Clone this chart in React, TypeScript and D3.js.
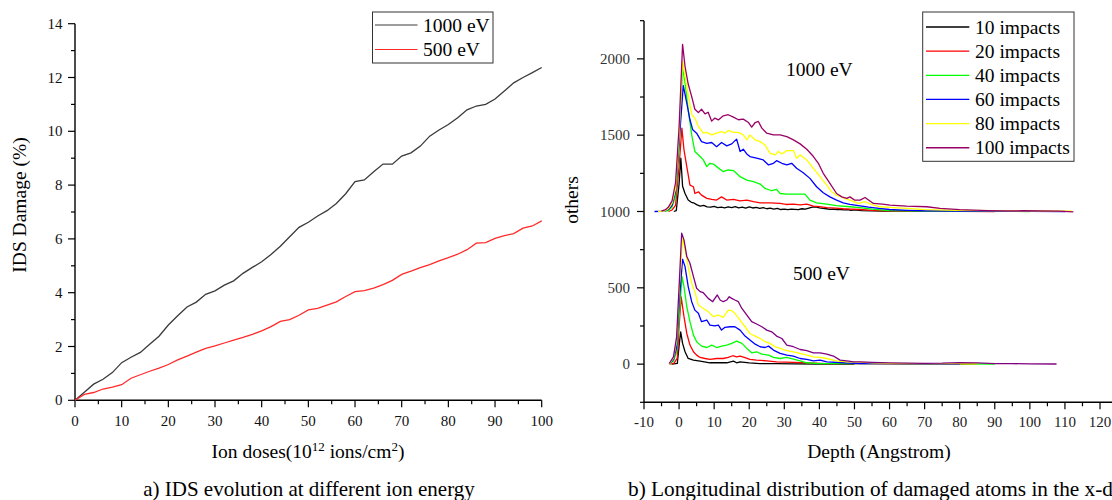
import React from "react";
import * as d3 from "d3";

// ---------- Panel a) data ----------
const doses = [0,2,4,6,8,10,12,14,16,18,20,22,24,26,28,30,32,34,36,38,40,42,44,46,48,50,52,54,56,58,60,62,64,66,68,70,72,74,76,78,80,82,84,86,88,90,92,94,96,98,100];
const ids1000 = [0,0.3,0.6,0.78,1.03,1.4,1.6,1.78,2.08,2.38,2.8,3.14,3.47,3.65,3.94,4.07,4.28,4.44,4.72,4.94,5.15,5.42,5.73,6.08,6.43,6.62,6.85,7.05,7.32,7.68,8.13,8.19,8.5,8.78,8.78,9.08,9.2,9.45,9.82,10.05,10.25,10.5,10.8,10.94,11.0,11.2,11.5,11.8,12.0,12.18,12.37];
const ids500 = [0,0.22,0.29,0.42,0.49,0.58,0.82,0.95,1.08,1.2,1.33,1.5,1.64,1.79,1.93,2.02,2.13,2.24,2.34,2.45,2.58,2.74,2.93,3.0,3.16,3.36,3.42,3.54,3.66,3.86,4.04,4.08,4.17,4.3,4.46,4.68,4.8,4.93,5.04,5.18,5.3,5.43,5.6,5.84,5.86,6.02,6.12,6.2,6.4,6.48,6.67];
const leftXTicks = [0,10,20,30,40,50,60,70,80,90,100];
const leftXMinor = [5,15,25,35,45,55,65,75,85,95];
const leftYTicks = [0,2,4,6,8,10,12,14];
const leftYMinor = [1,3,5,7,9,11,13];
const leftSeriesNames = ["1000 eV", "500 eV"];
const leftColors = ["#3a3a3a", "#ff2a2a"];

// ---------- Panel b) data: [depth (Angstrom), value] ----------
const e1000_i10 = [[-1.5,1000],[-0.8,1005],[0,1180],[0.5,1349],[1,1165],[1.7,1118],[2.6,1075],[3.5,1060],[4.1,1057],[5,1045],[6,1035],[7,1040],[8,1030],[9,1028],[10,1033],[11,1025],[12,1028],[13,1024],[14,1030],[15,1026],[16,1032],[17,1024],[18,1028],[19,1022],[20,1030],[21,1023],[22,1027],[23,1020],[24,1025],[25,1018],[26,1022],[27,1016],[28,1020],[29,1013],[30,1016],[31,1012],[32,1015],[33,1014],[34,1012],[35,1018],[36,1015],[37,1022],[38,1028],[39,1030],[40,1024],[41,1020],[42,1018],[43,1014],[44,1016],[45,1012],[46,1013],[47,1010],[48,1012],[49,1008],[50,1010],[52,1006],[55,1004],[58,1003],[62,1002],[70,1001]];
const e1000_i20 = [[-3,1000],[-2,1010],[-1,1040],[0,1300],[0.8,1546],[1.4,1404],[2.2,1294],[3.1,1173],[4.1,1162],[4.5,1118],[5.5,1129],[6.4,1107],[7.9,1086],[9.3,1079],[10.7,1075],[12.1,1096],[13.6,1075],[15.5,1079],[17.4,1070],[19.3,1075],[21.2,1064],[23.1,1057],[25.9,1057],[28.8,1053],[30.5,1046],[32.6,1048],[34.5,1044],[36.4,1048],[38.3,1035],[40,1032],[42.1,1026],[44.5,1022],[46.8,1018],[49,1016],[51.6,1013],[55,1008],[60,1005],[65,1003],[70,1002],[80,1001],[90,1000]];
const e1000_i40 = [[-4,1000],[-3,1008],[-2,1030],[-1,1100],[0,1400],[1.0,1941],[1.7,1842],[2.6,1667],[3.6,1502],[4.5,1393],[6,1360],[6.9,1338],[7.9,1294],[8.8,1316],[9.8,1311],[10.7,1294],[12.6,1261],[14,1272],[15.5,1268],[17.4,1228],[19.3,1206],[21.2,1195],[23.1,1180],[24.5,1151],[26.4,1136],[27.8,1145],[28.8,1118],[30.7,1114],[32.6,1114],[35.9,1114],[37.3,1075],[39.2,1057],[42.1,1048],[44.9,1039],[48.7,1031],[51.6,1026],[55,1016],[60,1006],[70,1003],[80,1002],[90,1001],[100,1000]];
const e1000_i60 = [[-7,1000],[-5,1001],[-4,1004],[-3,1015],[-2,1040],[-1,1130],[0,1450],[1.2,1825],[2.2,1710],[3.1,1601],[3.9,1535],[5,1513],[6.4,1458],[7.9,1447],[9.3,1452],[10.7,1425],[12.1,1452],[13.6,1430],[15,1443],[16.4,1474],[17.4,1393],[18.3,1408],[19.3,1377],[20.2,1360],[22.1,1349],[24,1338],[25.5,1305],[26.9,1316],[27.8,1333],[29.3,1316],[30.7,1305],[32.1,1316],[33.5,1283],[35.4,1254],[37.3,1217],[39.2,1162],[41.1,1123],[43,1096],[44.9,1075],[46.8,1057],[48.7,1046],[51.6,1037],[54,1028],[57,1020],[60,1013],[65,1008],[70,1005],[80,1003],[90,1002],[100,1001],[110,1000]];
const e1000_i80 = [[-6,1000],[-5,1002],[-4,1005],[-3,1020],[-2,1055],[-1,1150],[0,1500],[1,1985],[2.2,1820],[3.6,1634],[4.5,1612],[5.5,1557],[6.9,1513],[7.9,1518],[9.3,1502],[10.7,1513],[12.1,1524],[13.1,1513],[14,1531],[15.5,1518],[16.9,1518],[18.3,1502],[19.3,1469],[20.2,1502],[21.7,1469],[23.1,1458],[24.5,1436],[25.9,1382],[27.4,1371],[28.3,1393],[29.3,1377],[30.7,1399],[32.6,1399],[33.5,1349],[34.5,1371],[36.4,1338],[38.3,1283],[40.2,1228],[42.1,1173],[43.5,1129],[44.9,1107],[46.8,1090],[48.7,1075],[51.1,1053],[53,1064],[55,1045],[57.3,1031],[61,1025],[65,1020],[70,1012],[80,1008],[90,1006],[100,1004],[112,1002]];
const e1000_i100 = [[-5,1004],[-4,1010],[-3,1030],[-2,1070],[-1,1190],[0,1550],[1,2095],[1.7,1950],[2.6,1835],[3.6,1753],[4.5,1670],[5.5,1648],[6.4,1670],[7.4,1640],[8.3,1650],[9.3,1592],[10.2,1612],[11.2,1600],[12.6,1627],[14,1634],[15.5,1618],[16.9,1601],[18.3,1605],[19.8,1583],[20.7,1553],[21.7,1583],[22.6,1590],[23.6,1546],[25,1513],[26.9,1502],[28.8,1502],[30.7,1491],[32.6,1469],[34.5,1443],[36.4,1408],[38.3,1360],[39.7,1316],[41.1,1250],[43,1184],[44.9,1118],[46.4,1096],[47.8,1086],[48.7,1096],[50,1075],[51.6,1075],[53,1092],[55.4,1053],[58,1048],[60.1,1042],[64.9,1035],[70.6,1031],[74.4,1020],[80,1012],[83.9,1009],[88,1006],[93.4,1004],[98,1005],[102.9,1004],[108,1002],[112.4,998]];

const e500_i10 = [[-2,0],[-0.5,5],[0,120],[0.46,212],[1,136],[1.7,81],[2.6,37],[4.1,26],[6,20],[8.8,9],[11,10],[13.6,9],[15.5,20],[16.4,9],[17.4,15],[20,8],[23.1,4],[28,3],[32.6,2],[40,1],[50,0]];
const e500_i20 = [[-2.5,0],[-1.5,5],[-0.5,40],[0,250],[0.6,440],[1.4,311],[2.2,201],[3.1,125],[4.1,81],[5,59],[6,44],[7.4,37],[8.8,31],[10.7,37],[12.6,37],[14,44],[15.3,55],[16.4,48],[17.4,53],[18.8,42],[20.2,31],[22.1,26],[25,22],[27.8,15],[32.6,11],[37,8],[42.1,4],[50,3],[60,2],[70,1],[85,0]];
const e500_i40 = [[-2.8,0],[-1.6,20],[-0.7,80],[0,300],[0.84,573],[1.4,508],[2.2,376],[3.1,278],[4.1,190],[5,147],[6.4,118],[7.9,109],[9.3,125],[10.7,109],[12.1,118],[13.6,125],[15,136],[16.4,151],[17.9,136],[19.3,103],[20.7,74],[22.1,81],[23.6,66],[25.5,59],[26.9,44],[28.8,37],[30.7,44],[32.6,33],[34.5,22],[36.4,9],[40.2,4],[50,4],[60,3],[70,2],[80,2],[90,0]];
const e500_i60 = [[-2.8,0],[-1.6,30],[-0.7,110],[0,400],[1,687],[1.7,639],[2.6,508],[3.6,409],[4.5,354],[5.5,333],[6.4,278],[7.9,289],[8.8,256],[10.2,250],[11.2,256],[12.1,223],[13.1,241],[14.5,245],[15.9,245],[17.4,223],[18.8,184],[20.2,158],[21.7,131],[23.1,114],[24.5,109],[25.5,118],[26.9,92],[28.8,70],[30.7,59],[32.6,53],[34.5,37],[36.4,31],[38.3,22],[40.2,26],[42.1,15],[46.8,9],[51.6,4],[60,3],[70,2],[80,1]];
const e500_i80 = [[-2.8,0],[-1.6,40],[-0.7,150],[0,480],[1,825],[1.7,748],[2.6,639],[3.6,529],[4.5,475],[5.5,387],[6.9,365],[8.3,344],[9.8,311],[11.2,322],[12.6,306],[14,354],[15,350],[15.9,333],[17.4,289],[18.8,245],[20.2,201],[21.7,184],[23.1,168],[24.5,147],[25.9,136],[27.4,114],[28.8,103],[30.7,88],[32.6,81],[34.5,70],[36.4,59],[38.3,48],[40.2,44],[42.1,37],[44.9,22],[47.8,15],[51.6,13],[55,8],[60,5],[70,4],[80,3],[85,2]];
const e500_i100 = [[-2.8,4],[-1.6,48],[-0.7,179],[0.1,551],[0.74,858],[1.4,814],[2.2,705],[3.1,661],[4.1,573],[5,497],[6,475],[6.9,468],[8.3,431],[9.6,409],[10.2,431],[10.9,453],[11.7,420],[12.6,409],[13.6,420],[14.3,442],[15,431],[15.9,420],[16.9,409],[17.9,365],[18.8,337],[19.8,306],[20.7,278],[22.1,263],[23.6,245],[25,223],[26.4,212],[27.8,184],[29.3,168],[30.7,125],[32.6,114],[34.5,96],[36.4,88],[38.3,74],[40.2,74],[42.1,66],[44,53],[45.9,26],[47.8,22],[49.7,15],[51.6,15],[55,12],[60,8],[65,6],[70,5],[75,6],[80,10],[85,8],[90,4],[95,3],[100,2],[107.6,1]];

const impactNames = ["10 impacts","20 impacts","40 impacts","60 impacts","80 impacts","100 impacts"];
const impactColors = ["#000000","#ff0000","#00ff00","#0000ff","#ffff00","#990066"];
const impactColors500 = ["#000000","#ff0000","#00ff00","#0000ff","#ffff00","#800080"];
const series1000 = [e1000_i10, e1000_i20, e1000_i40, e1000_i60, e1000_i80, e1000_i100];
const series500 = [e500_i10, e500_i20, e500_i40, e500_i60, e500_i80, e500_i100];
const rightXTicks = [-10,0,10,20,30,40,50,60,70,80,90,100,110,120];
const rightXMinor = [-5,5,15,25,35,45,55,65,75,85,95,105,115,125];
const rightYTicks = [0,500,1000,1500,2000];
const rightYMinor = [-250,250,750,1250,1750,2250];

const FONT = "'Liberation Serif', 'Times New Roman', serif";

export default function App() {
  // Panel a scales
  const ax = d3.scaleLinear().domain([0, 100]).range([75, 541.7]);
  const ay = d3.scaleLinear().domain([0, 14]).range([400.3, 23.7]);
  // Panel b scales
  const bx = d3.scaleLinear().domain([-10, 130]).range([644, 1135.1]);
  const by = d3.scaleLinear().domain([-250, 2250]).range([402.3, 20.7]);

  const lineA = d3.line<number>().x((_, i) => ax(doses[i])).y((d) => ay(d));
  const lineB = d3.line<number[]>().x((d) => bx(d[0])).y((d) => by(d[1]));

  const tickLabel = { fontFamily: FONT, fontSize: 15, fill: "#111" } as const;

  return (
    <svg width={1112} height={500} style={{ position: "absolute", left: 0, top: 0, background: "#fff" }}>
      <rect x={0} y={0} width={1112} height={500} fill="#fff" />
      {/* ================= Panel a ================= */}
      <g>
        <line x1={ax(0)} x2={ax(0)} y1={ay(14)} y2={ay(0)} stroke="#000" strokeWidth={1.4} />
        <line x1={ax(0)} x2={ax(100)} y1={ay(0)} y2={ay(0)} stroke="#000" strokeWidth={1.4} />
        {leftYTicks.map((t) => (
          <g key={"ly" + t}>
            <line x1={ax(0) - 7} x2={ax(0)} y1={ay(t)} y2={ay(t)} stroke="#000" strokeWidth={1.2} />
            <text x={62.5} y={ay(t)} dy="0.34em" textAnchor="end" {...tickLabel}>{t}</text>
          </g>
        ))}
        {leftYMinor.map((t) => (
          <line key={"lym" + t} x1={ax(0) - 4} x2={ax(0)} y1={ay(t)} y2={ay(t)} stroke="#000" strokeWidth={1.2} />
        ))}
        {leftXTicks.map((t) => (
          <g key={"lx" + t}>
            <line x1={ax(t)} x2={ax(t)} y1={ay(0)} y2={ay(0) + 7} stroke="#000" strokeWidth={1.2} />
            <text x={ax(t)} y={425.5} textAnchor="middle" {...tickLabel}>{t}</text>
          </g>
        ))}
        {leftXMinor.map((t) => (
          <line key={"lxm" + t} x1={ax(t)} x2={ax(t)} y1={ay(0)} y2={ay(0) + 4} stroke="#000" strokeWidth={1.2} />
        ))}
        <path d={lineA(ids1000) || ""} fill="none" stroke={leftColors[0]} strokeWidth={1.3} />
        <path d={lineA(ids500) || ""} fill="none" stroke={leftColors[1]} strokeWidth={1.3} />
        <rect x={372.5} y={12} width={120.5} height={51} fill="#fff" stroke="#333" strokeWidth={1} />
        {leftSeriesNames.map((n, i) => (
          <g key={n}>
            <line x1={375} x2={417.5} y1={25 + i * 24.5} y2={25 + i * 24.5} stroke={leftColors[i]} strokeWidth={1.2} />
            <text x={423} y={25 + i * 24.5} dy="0.34em" fontFamily={FONT} fontSize={19.5} fill="#000">{n}</text>
          </g>
        ))}
        <text transform="translate(26,205) rotate(-90)" textAnchor="middle" fontFamily={FONT} fontSize={19.5} fill="#000">IDS Damage (%)</text>
        <text x={308} y={458} textAnchor="middle" fontFamily={FONT} fontSize={19.5} fill="#000">
          Ion doses(10<tspan dy={-7} fontSize={13}>12</tspan><tspan dy={7}> ions/cm</tspan><tspan dy={-7} fontSize={13}>2</tspan><tspan dy={7}>)</tspan>
        </text>
        <text x={309} y={496} textAnchor="middle" fontFamily={FONT} fontSize={21} fill="#000">a) IDS evolution at different ion energy</text>
      </g>

      {/* ================= Panel b ================= */}
      <g>
        <line x1={644} x2={644} y1={by(2250)} y2={by(-250)} stroke="#000" strokeWidth={1.4} />
        <line x1={644} x2={1135} y1={by(-250)} y2={by(-250)} stroke="#000" strokeWidth={1.4} />
        {rightYTicks.map((t) => (
          <g key={"ry" + t}>
            <line x1={637} x2={644} y1={by(t)} y2={by(t)} stroke="#000" strokeWidth={1.2} />
            <text x={630} y={by(t)} dy="0.34em" textAnchor="end" {...tickLabel} fill="#333">{t}</text>
          </g>
        ))}
        {rightYMinor.map((t) => (
          <line key={"rym" + t} x1={640} x2={644} y1={by(t)} y2={by(t)} stroke="#000" strokeWidth={1.2} />
        ))}
        {rightXTicks.map((t) => (
          <g key={"rx" + t}>
            <line x1={bx(t)} x2={bx(t)} y1={by(-250)} y2={by(-250) + 7} stroke="#000" strokeWidth={1.2} />
            <text x={bx(t)} y={426.5} textAnchor="middle" {...tickLabel} fill="#222">{t}</text>
          </g>
        ))}
        {rightXMinor.map((t) => (
          <line key={"rxm" + t} x1={bx(t)} x2={bx(t)} y1={by(-250)} y2={by(-250) + 4} stroke="#000" strokeWidth={1.2} />
        ))}
        {series1000.map((s, i) => (
          <path key={"s1000" + i} d={lineB(s) || ""} fill="none" stroke={impactColors[i]} strokeWidth={1.3} strokeLinejoin="round" />
        ))}
        {series500.map((s, i) => (
          <path key={"s500" + i} d={lineB(s) || ""} fill="none" stroke={impactColors500[i]} strokeWidth={1.3} strokeLinejoin="round" />
        ))}
        <text x={786} y={76} fontFamily={FONT} fontSize={19.5} fill="#000">1000 eV</text>
        <text x={793} y={280} fontFamily={FONT} fontSize={19.5} fill="#000">500 eV</text>
        <rect x={922.7} y={12} width={151.3} height={149.3} fill="#fff" stroke="#333" strokeWidth={1} />
        {impactNames.map((n, i) => (
          <g key={n}>
            <line x1={926} x2={969.3} y1={27 + i * 24.15} y2={27 + i * 24.15} stroke={impactColors[i]} strokeWidth={1.3} />
            <text x={975} y={27 + i * 24.15} dy="0.34em" fontFamily={FONT} fontSize={19.5} fill="#000">{n}</text>
          </g>
        ))}
        <text transform="translate(578,200) rotate(-90)" textAnchor="middle" fontFamily={FONT} fontSize={19.5} fill="#000">others</text>
        <text x={879} y={458} textAnchor="middle" fontFamily={FONT} fontSize={19.5} fill="#000">Depth (Angstrom)</text>
        <text x={628} y={496} fontFamily={FONT} fontSize={21.3} fill="#000">b) Longitudinal distribution of damaged atoms in the x-direction</text>
      </g>
    </svg>
  );
}
